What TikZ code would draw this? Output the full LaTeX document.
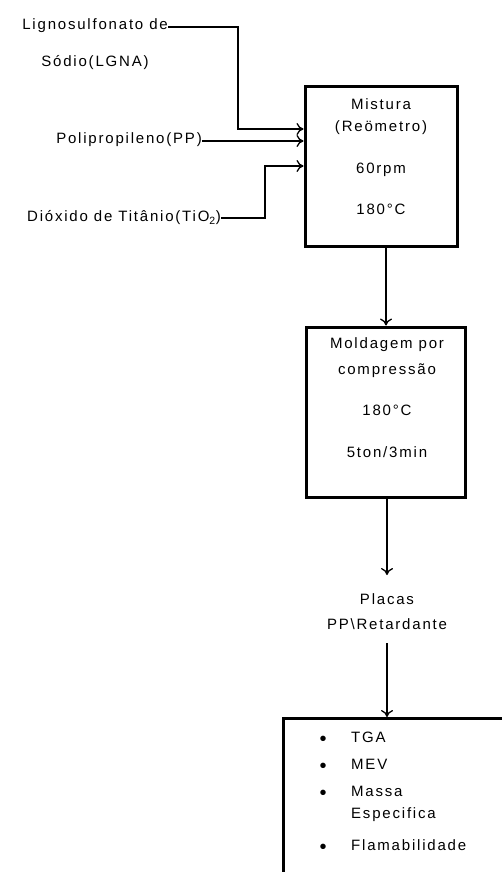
\documentclass[tikz,border=0pt]{standalone}
\usepackage{fontspec}
\usetikzlibrary{arrows.meta}
\setmainfont{Liberation Sans}[LetterSpace=12]
\begin{document}
\begin{tikzpicture}[x=1pt,y=-1pt,
  txt/.style={inner sep=0pt, font=\fontsize{15}{18}\selectfont},
  bul/.style={inner sep=0pt, font=\fontsize{20}{20}\selectfont},
  boxx/.style={draw, line width=3pt, inner sep=0pt},
  conn/.style={line width=1.3pt, -{To[length=7pt,width=12pt]}}]
\useasboundingbox (0,0) rectangle (502,872);
\clip (0,0) rectangle (502,872);
\fill[white] (0,0) rectangle (502,872);
% inputs
\node[txt, anchor=east] (lig) at (168,26) {Lignosulfonato de};
\node[txt] (sod) at (95,63) {Sódio(LGNA)};
\node[txt, anchor=east] (pp) at (202,140) {Polipropileno(PP)};
\node[txt, anchor=east] (tio) at (221,218) {Dióxido de Titânio(TiO\textsubscript{2})};
% mixture box
\node[boxx, minimum width=152pt, minimum height=159pt] (mix) at (381,166.5) {};
\node[txt] (m1) at (381,104) {Mistura};
\node[txt] (m2) at (381,128) {(Reömetro)};
\node[txt] (m3) at (381,170) {60rpm};
\node[txt] (m4) at (381,209) {180°C};
% molding box
\node[boxx, minimum width=159pt, minimum height=170pt] (mold) at (385.5,412) {};
\node[txt] (d1) at (387,345) {Moldagem por};
\node[txt] (d2) at (387,371) {compressão};
\node[txt] (d3) at (387,410) {180°C};
\node[txt] (d4) at (387,452) {5ton/3min};
% plates
\node[txt, align=center] (pl) at (387,612) {Placas\\[7pt]PP\textbackslash Retardante};
% results box
\node[boxx, anchor=north west, minimum width=240pt, minimum height=170pt] (res) at (282,717) {};
\node[bul] (b1) at (323,741) {•};
\node[bul] (b2) at (323,768) {•};
\node[bul] (b3) at (323,795) {•};
\node[bul] (b4) at (323,849) {•};
\node[txt, anchor=west] (r1) at (351,737) {TGA};
\node[txt, anchor=west] (r2) at (351,764) {MEV};
\node[txt, anchor=west] (r3) at (351,791) {Massa};
\node[txt, anchor=west] (r3b) at (351,815) {Especifica};
\node[txt, anchor=west] (r4) at (351,845) {Flamabilidade};
% connectors
\coordinate (c1) at (238,27);
\coordinate (c2) at (238,129);
\coordinate (c3) at (265,218);
\coordinate (c4) at (265,166);
\draw[conn] (lig.east |- c1) -- (c1) -- (c2) -- (mix.west |- c2);
\draw[conn] (pp.east) ++(0,1) -- (mix.west |- 0,141);
\draw[conn] (tio.east |- c3) -- (c3) -- (c4) -- (mix.west |- c4);
\draw[conn] (mix.south -| 386,0) -- (mold.north -| 386,0);
\draw[conn] (mold.south -| 387,0) -- (387,575);
\draw[conn] (387,643) -- (res.north -| 387,0);
\end{tikzpicture}
\end{document}
